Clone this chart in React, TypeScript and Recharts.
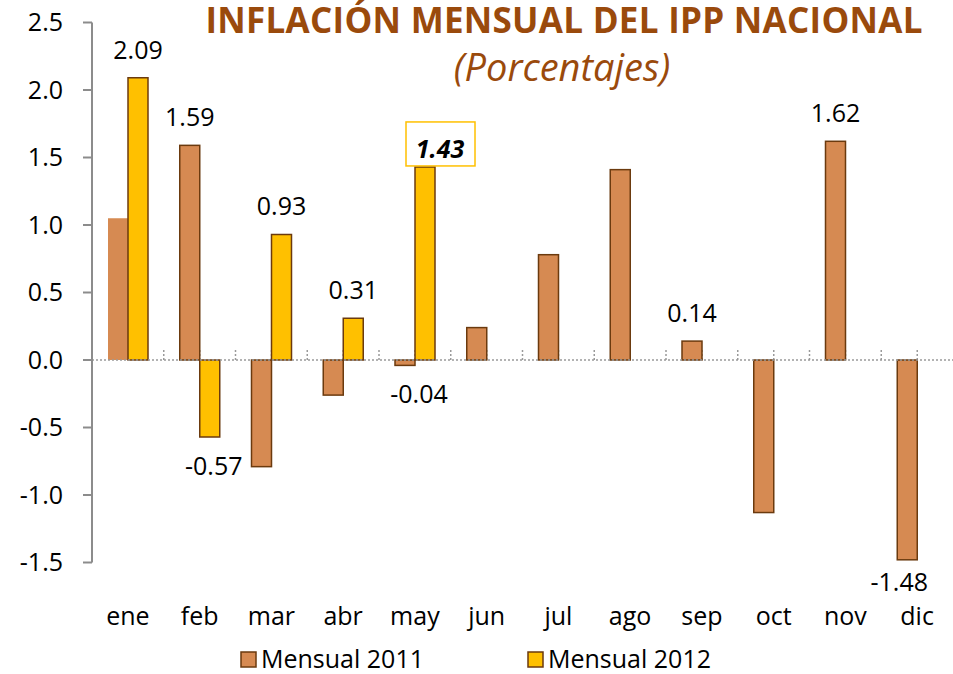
import React from 'react';
import { BarChart, Bar, XAxis, YAxis, ReferenceLine, Cell, LabelList } from 'recharts';

const categories = ['ene', 'feb', 'mar', 'abr', 'may', 'jun', 'jul', 'ago', 'sep', 'oct', 'nov', 'dic'];
const mensual2011 = [1.05, 1.59, -0.79, -0.26, -0.04, 0.24, 0.78, 1.41, 0.14, -1.13, 1.62, -1.48];
const mensual2012: (number | null)[] = [2.09, -0.57, 0.93, 0.31, 1.43, null, null, null, null, null, null, null];
const labels2011: (string | null)[] = [null, '1.59', null, null, '-0.04', null, null, null, '0.14', null, '1.62', '-1.48'];
const labels2012: (string | null)[] = ['2.09', '-0.57', '0.93', '0.31', '1.43', null, null, null, null, null, null, null];
const highlight2012 = '1.43';
const yTicks = [-1.5, -1.0, -0.5, 0.0, 0.5, 1.0, 1.5, 2.0, 2.5];
const seriesNames = ['Mensual 2011', 'Mensual 2012'];
const titleText = 'INFLACIÓN MENSUAL DEL IPP NACIONAL';
const subtitleText = '(Porcentajes)';

const data = categories.map((c, i) => ({
  cat: c,
  m2011: mensual2011[i],
  m2012: mensual2012[i],
}));

const FONT = '"Open Sans", sans-serif';
const C2011 = '#D68A52';
const C2012 = '#FFC000';
const STROKE = '#6B3A0E';
const TITLE = '#9A4A0C';
const GAP = 16;

const makeLabel = (labels: (string | null)[]) => (props: any) => {
  const { x, y, width, height, index, value } = props;
  const txt = labels[index];
  if (!txt || value == null) return null;
  const top = Math.min(y, y + height);
  const bottom = Math.max(y, y + height);
  const cx = x + width / 2;
  if (txt === highlight2012) {
    return (
      <g>
        <rect x={cx - 19} y={top - 45} width={69} height={44} fill="#fff" stroke={C2012} strokeWidth={1.5} />
        <text x={cx + 15} y={top - 9} textAnchor="middle" fontFamily={FONT} fontSize={25} fontWeight={700} fontStyle="italic" fill="#000">{txt}</text>
      </g>
    );
  }
  if (value >= 0) {
    return <text x={cx} y={top - 19} textAnchor="middle" fontFamily={FONT} fontSize={25} fill="#000">{txt}</text>;
  }
  const isSmall = Math.abs(value) < 0.1;
  const lx = isSmall ? cx + 14 : cx - (index === 11 ? 8 : -4);
  const ly = index === 11 ? bottom + 31 : bottom + 38;
  return (
    <g>
      {index === 1 && <rect x={lx - 34} y={ly - 24} width={68} height={30} fill="#fff" />}
      <text x={lx} y={ly} textAnchor="middle" fontFamily={FONT} fontSize={25} fill="#000">{txt}</text>
    </g>
  );
};

const Shape2011 = (props: any) => {
  const { x, y, width, height, fill, stroke, value } = props;
  const top = Math.min(y, y + height);
  const h = Math.abs(height);
  const zeroY = value >= 0 ? top + h : top;
  const markX = [x - GAP, x + width];
  return (
    <g>
      {markX.map((mx, i) => (
        <line key={i} x1={mx} x2={mx} y1={zeroY - 10} y2={zeroY} stroke="#9A9A9A" strokeWidth={1.5} strokeDasharray="2 2" />
      ))}
      <rect x={x} y={top} width={width} height={h} fill={fill} stroke={stroke} strokeWidth={1.5} />
    </g>
  );
};

const XTick = (props: any) => {
  const { x, y, payload } = props;
  return (
    <text x={x} y={y + 56} textAnchor="middle" fontFamily={FONT} fontSize={25} fill="#000">{payload.value}</text>
  );
};

export default function App() {
  const legendX = [241, 528];
  return (
    <div style={{ position: 'absolute', left: 0, top: 0, width: 953, height: 674, background: '#fff', overflow: 'hidden' }}>
      <BarChart
        width={953}
        height={674}
        data={data}
        margin={{ top: 22.5, right: 0, bottom: 51.5, left: 0 }}
        barCategoryGap={GAP}
        barGap={0}
      >
        <XAxis dataKey="cat" axisLine={false} tickLine={false} height={60} tickMargin={0} tick={<XTick />} interval={0} />
        <YAxis
          domain={[-1.5, 2.5]}
          ticks={yTicks}
          width={92}
          tickSize={9}
          tickMargin={20}
          axisLine={{ stroke: '#8C8C8C', strokeWidth: 2 }}
          tickLine={{ stroke: '#8C8C8C', strokeWidth: 2 }}
          tickFormatter={(v: number) => v.toFixed(1)}
          tick={{ fontFamily: FONT, fontSize: 25, fill: '#000' }}
          allowDataOverflow
        />
        <ReferenceLine y={0} stroke="#9A9A9A" strokeWidth={1.5} strokeDasharray="2 2" />
        <Bar dataKey="m2011" fill={C2011} stroke={STROKE} strokeWidth={1.5} isAnimationActive={false} shape={<Shape2011 />}>
          {data.map((d, i) => (
            <Cell key={i} fill={C2011} stroke={i === 0 ? 'none' : STROKE} />
          ))}
          <LabelList dataKey="m2011" content={makeLabel(labels2011)} />
        </Bar>
        <Bar dataKey="m2012" fill={C2012} stroke={STROKE} strokeWidth={1.5} isAnimationActive={false}>
          <LabelList dataKey="m2012" content={makeLabel(labels2012)} />
        </Bar>
      </BarChart>
      <svg width={953} height={674} style={{ position: 'absolute', left: 0, top: 0, pointerEvents: 'none' }}>
        <text x={564} y={33} textAnchor="middle" fontFamily={FONT} fontWeight={700} fontSize={35} fill={TITLE} textLength={717} lengthAdjust="spacing">{titleText}</text>
        <text x={562} y={81} textAnchor="middle" fontFamily={FONT} fontStyle="italic" fontSize={38} fill={TITLE}>{subtitleText}</text>
        {seriesNames.map((n, i) => (
          <g key={n}>
            <rect x={legendX[i]} y={652} width={15} height={15} fill={i === 0 ? C2011 : C2012} stroke={STROKE} strokeWidth={1.5} />
            <text x={legendX[i] + 20} y={668} fontFamily={FONT} fontSize={25} fill="#000">{n}</text>
          </g>
        ))}
      </svg>
    </div>
  );
}
